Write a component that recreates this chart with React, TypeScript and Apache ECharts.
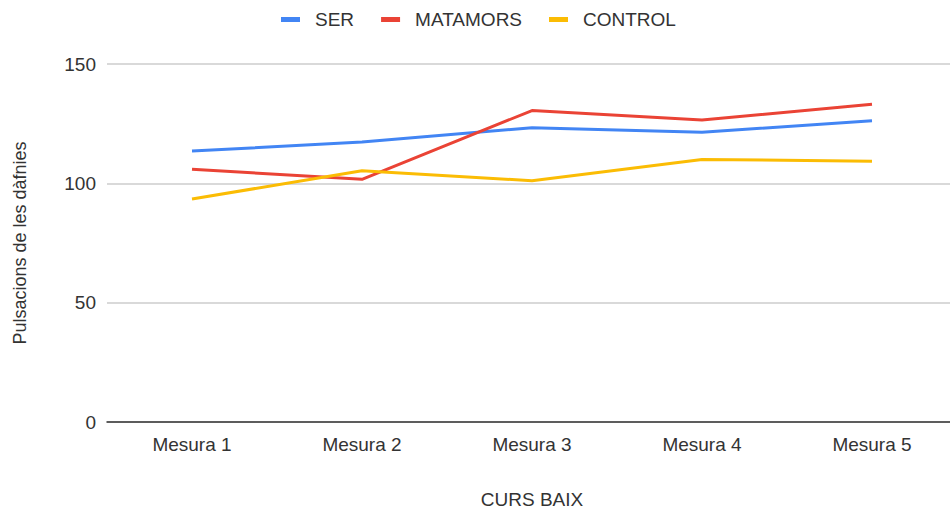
import React, { useEffect, useRef } from "react";
import * as echarts from "echarts";

const categories = ["Mesura 1", "Mesura 2", "Mesura 3", "Mesura 4", "Mesura 5"];
const serValues = [113.5, 117.3, 123.3, 121.4, 126.2];
const matamorsValues = [105.9, 101.7, 130.5, 126.5, 133.1];
const controlValues = [93.4, 105.3, 101.1, 110.0, 109.3];
const yTicks = [0, 50, 100, 150];

const FONT = "'Liberation Sans', Arial, sans-serif";

export default function App() {
  const ref = useRef<HTMLDivElement>(null);
  useEffect(() => {
    if (!ref.current) return;
    const chart = echarts.init(ref.current, undefined, { renderer: "svg" });
    const mk = (name: string, data: number[], color: string) => ({
      name,
      type: "line",
      data,
      symbol: "none",
      lineStyle: { width: 3, color },
      itemStyle: { color },
    });
    chart.setOption({
      animation: false,
      textStyle: { fontFamily: FONT },
      legend: {
        left: 281,
        top: 10,
        padding: 0,
        itemWidth: 19,
        itemHeight: 5,
        itemGap: 27,
        icon: "rect",
        textStyle: { fontSize: 19, color: "#333", fontFamily: FONT, padding: [0, 0, 0, 10] },
        data: ["SER", "MATAMORS", "CONTROL"],
      },
      grid: {
        left: 107,
        top: 64,
        width: 850,
        height: 358,
        containLabel: false,
        outerBoundsMode: "none",
      },
      xAxis: {
        type: "category",
        data: categories,
        boundaryGap: true,
        name: "CURS BAIX",
        nameLocation: "middle",
        nameGap: 68,
        nameTextStyle: { fontSize: 19, color: "#333", fontFamily: FONT },
        axisLine: { lineStyle: { color: "#333", width: 1.5 } },
        axisTick: { show: false },
        axisLabel: { fontSize: 19, color: "#333", margin: 13, fontFamily: FONT },
      },
      yAxis: {
        type: "value",
        min: yTicks[0],
        max: yTicks[yTicks.length - 1],
        interval: 50,
        name: "Pulsacions de les dàfnies",
        nameLocation: "middle",
        nameGap: 78,
        nameTextStyle: { fontSize: 18, color: "#333", fontFamily: FONT },
        axisLine: { show: false },
        axisTick: { show: false },
        splitLine: { lineStyle: { color: "#cccccc", width: 1.5 } },
        axisLabel: { fontSize: 19, color: "#333", margin: 11, fontFamily: FONT },
      },
      series: [
        mk("SER", serValues, "#4285F4"),
        mk("MATAMORS", matamorsValues, "#EA4335"),
        mk("CONTROL", controlValues, "#FBBC04"),
      ],
    });
    return () => chart.dispose();
  }, []);
  return (
    <div
      style={{
        position: "fixed",
        left: 0,
        top: 0,
        width: 950,
        height: 509,
        overflow: "hidden",
        background: "#fff",
      }}
    >
      <div ref={ref} style={{ width: 970, height: 509 }} />
    </div>
  );
}
